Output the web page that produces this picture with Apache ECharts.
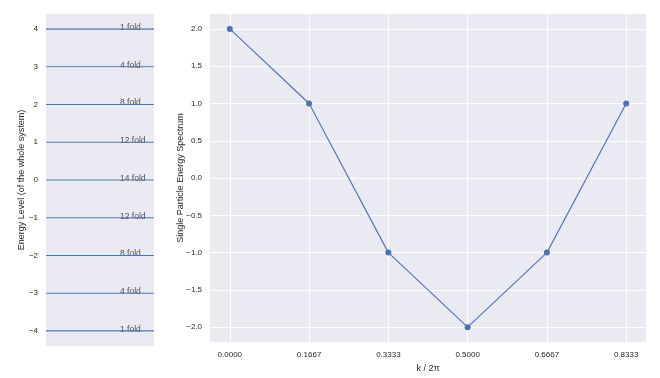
<!DOCTYPE html>
<html>
<head>
<meta charset="utf-8">
<script src="https://cdn.jsdelivr.net/npm/echarts@6/dist/echarts.min.js"></script>
<style>
  html, body { margin: 0; padding: 0; background: #fff; }
  #chart { width: 660px; height: 378px; }
</style>
</head>
<body>
<div id="chart"></div>
<script>
// left panel: energy levels of the whole system and their degeneracy
var levels = [4, 3, 2, 1, 0, -1, -2, -3, -4];
var folds = [1, 4, 8, 12, 14, 12, 8, 4, 1];
var levelTicks = [-4, -3, -2, -1, 0, 1, 2, 3, 4];

// right panel: single particle spectrum
var kValues = [0, 0.166667, 0.333333, 0.5, 0.666667, 0.833333];
var energies = [2, 1, -1, -2, -1, 1];
var kTicks = [0, 0.166667, 0.333333, 0.5, 0.666667, 0.833333];
var spectrumTicks = [-2, -1.5, -1, -0.5, 0, 0.5, 1, 1.5, 2];

var BLUE = '#4C72B0';
var BG = '#EAEAF2';
var TXT = '#262626';
var FONT = 'Liberation Sans, Arial, sans-serif';

function minus(s) { return s.replace('-', '\u2212'); }

var chart = echarts.init(document.getElementById('chart'));

var series = [];
// one flat line per level, across the whole panel
levels.forEach(function (e, i) {
  series.push({
    type: 'line',
    xAxisIndex: 0,
    yAxisIndex: 0,
    data: [[0, e], [1, e]],
    symbol: 'none',
    silent: true,
    lineStyle: { color: BLUE, width: 1.1 }
  });
});
// "n fold" labels
series.push({
  type: 'scatter',
  xAxisIndex: 0,
  yAxisIndex: 0,
  symbolSize: 0,
  silent: true,
  data: levels.map(function (e, i) { return [0.685, e, folds[i]]; }),
  label: {
    show: true,
    position: 'inside',
    align: 'left',
    verticalAlign: 'bottom',
    offset: [0, 3],
    fontFamily: FONT,
    fontSize: 8.5,
    color: TXT,
    formatter: function (p) { return p.value[2] + ' fold'; }
  }
});
// spectrum
series.push({
  type: 'line',
  xAxisIndex: 1,
  yAxisIndex: 1,
  data: kValues.map(function (k, i) { return [k, energies[i]]; }),
  symbol: 'circle',
  symbolSize: 6,
  lineStyle: { color: BLUE, width: 1.1 },
  itemStyle: { color: BLUE }
});

var option = {
  backgroundColor: '#fff',
  animation: false,
  grid: [
    { left: 46, right: 506, top: 14, bottom: 32, backgroundColor: BG, show: true, borderWidth: 0 },
    { left: 210, right: 14, top: 14, bottom: 32, backgroundColor: BG, show: true, borderWidth: 0 }
  ],
  xAxis: [
    {
      gridIndex: 0, type: 'value', min: 0, max: 1,
      axisLine: { show: false }, axisTick: { show: false },
      axisLabel: { show: false }, splitLine: { show: false }
    },
    {
      gridIndex: 1, type: 'value', min: -0.041667, max: 0.875,
      name: 'k / 2\u03c0', nameLocation: 'middle', nameGap: 19,
      nameTextStyle: { fontFamily: FONT, fontSize: 9, color: TXT },
      axisLine: { show: false },
      axisTick: { show: false, customValues: kTicks },
      axisLabel: {
        customValues: kTicks, margin: 9,
        fontFamily: FONT, fontSize: 8, color: TXT,
        formatter: function (v) { return minus(v.toFixed(4)); }
      },
      splitLine: { show: true, lineStyle: { color: '#fff', width: 1 } }
    }
  ],
  yAxis: [
    {
      gridIndex: 0, type: 'value', min: -4.4, max: 4.4,
      name: 'Energy Level (of the whole system)', nameLocation: 'middle',
      nameGap: 20, nameMoveOverlap: false,
      nameTextStyle: { fontFamily: FONT, fontSize: 9, color: TXT },
      axisLine: { show: false },
      axisTick: { show: false, customValues: levelTicks },
      axisLabel: {
        customValues: levelTicks, margin: 8,
        fontFamily: FONT, fontSize: 8, color: TXT,
        formatter: function (v) { return minus(String(v)); }
      },
      splitLine: { show: true, lineStyle: { color: '#fff', width: 1 } }
    },
    {
      gridIndex: 1, type: 'value', min: -2.2, max: 2.2,
      name: 'Single Particle Energy Spectrum', nameLocation: 'middle',
      nameGap: 25, nameMoveOverlap: false,
      nameTextStyle: { fontFamily: FONT, fontSize: 9, color: TXT },
      axisLine: { show: false },
      axisTick: { show: false, customValues: spectrumTicks },
      axisLabel: {
        customValues: spectrumTicks, margin: 8,
        fontFamily: FONT, fontSize: 8, color: TXT,
        formatter: function (v) { return minus(v.toFixed(1)); }
      },
      splitLine: { show: true, lineStyle: { color: '#fff', width: 1 } }
    }
  ],
  series: series
};

chart.setOption(option);
</script>
</body>
</html>
